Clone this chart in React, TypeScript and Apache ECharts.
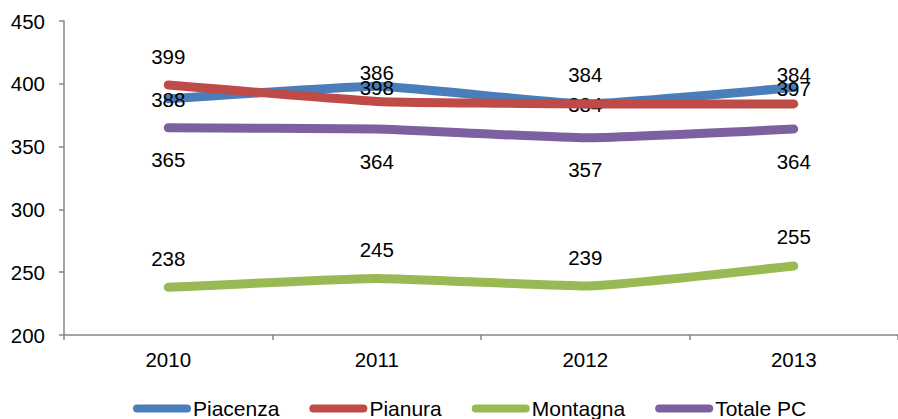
import React, { useEffect, useRef } from "react";
import * as echarts from "echarts";

const categories = ["2010", "2011", "2012", "2013"];
const piacenza = [388, 398, 384, 397];
const pianura = [399, 386, 384, 384];
const montagna = [238, 245, 239, 255];
const totalePC = [365, 364, 357, 364];
const seriesNames = ["Piacenza", "Pianura", "Montagna", "Totale PC"];

const FONT = "Liberation Sans, Arial, sans-serif";

export default function App() {
  const ref = useRef<HTMLDivElement>(null);
  useEffect(() => {
    document.body.style.margin = "0";
    const chart = echarts.init(ref.current!, null, { renderer: "svg" });
    const mk = (name: string, data: number[], color: string, offsetY: number, z: number) => ({
      name,
      type: "line",
      data,
      smooth: 0.12,
      symbol: "circle",
      symbolSize: 1,
      z,
      lineStyle: { color, width: 9, cap: "round", join: "round" },
      itemStyle: { color },
      label: {
        show: true,
        position: "inside",
        offset: [0, offsetY],
        color: "#000",
        fontSize: 20.5,
        fontFamily: FONT,
      },
    });
    chart.setOption({
      animation: false,
      backgroundColor: "#fff",
      grid: { left: 64, right: -10, top: 21, bottom: 84, containLabel: false },
      legend: {
        left: 128,
        top: 393,
        itemWidth: 58,
        itemHeight: 8,
        itemGap: 30,
        icon: "path://M4,0H54A4,4 0 0 1 54,8H4A4,4 0 0 1 4,0Z",
        textStyle: { color: "#000", fontSize: 21, fontFamily: FONT, padding: [0, 0, 0, -3] },
        data: seriesNames,
      },
      xAxis: {
        type: "category",
        data: categories,
        boundaryGap: true,
        axisLine: { lineStyle: { color: "#868686", width: 1.5 } },
        axisTick: { show: true, length: 5, lineStyle: { color: "#868686", width: 1.5 } },
        axisLabel: { color: "#000", fontSize: 20.5, fontFamily: FONT, margin: 14 },
        splitLine: { show: false },
      },
      yAxis: {
        type: "value",
        min: 200,
        max: 450,
        interval: 50,
        axisLine: { show: true, lineStyle: { color: "#868686", width: 1.5 } },
        axisTick: { show: true, length: 5, lineStyle: { color: "#868686", width: 1.5 } },
        axisLabel: { color: "#000", fontSize: 20.5, fontFamily: FONT, margin: 19 },
        splitLine: { show: false },
      },
      series: [
        mk(seriesNames[0], piacenza, "#4A7EBB", 1, 2),
        mk(seriesNames[1], pianura, "#BE4B48", -29, 3),
        mk(seriesNames[2], montagna, "#98B954", -29, 2),
        mk(seriesNames[3], totalePC, "#7D60A0", 32, 2),
      ],
    });
    return () => chart.dispose();
  }, []);
  return <div ref={ref} style={{ width: 898, height: 419 }} />;
}
